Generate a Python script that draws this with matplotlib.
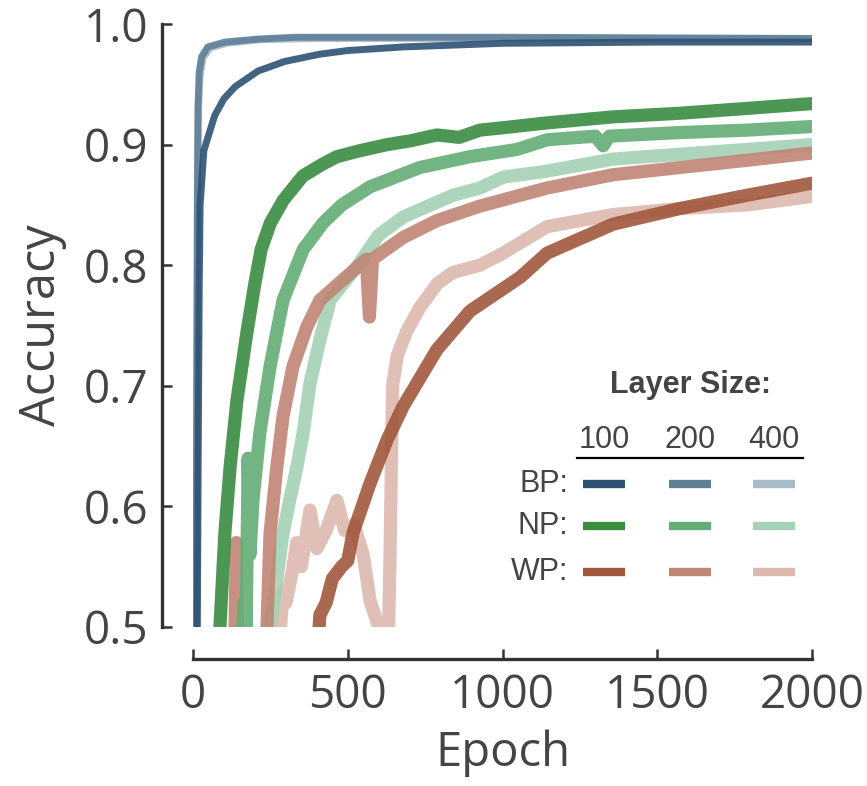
import matplotlib
matplotlib.use("Agg")
import matplotlib.pyplot as plt
from matplotlib.lines import Line2D

# (epoch, accuracy)
bp100_ep = [8, 14, 17, 20, 23, 35, 70, 100, 136, 210, 297, 410, 500, 680, 1000, 1500, 2000]
bp100_acc = [0.40, 0.50, 0.65, 0.78, 0.85, 0.895, 0.924, 0.938, 0.948, 0.961, 0.969, 0.975, 0.978, 0.981, 0.984, 0.985, 0.985]
bp200_ep = [5, 10, 12, 14, 16, 20, 28, 48, 103, 210, 330, 1000, 2000]
bp200_acc = [0.40, 0.50, 0.70, 0.85, 0.93, 0.96, 0.973, 0.981, 0.985, 0.9875, 0.989, 0.989, 0.988]
bp400_ep = [6, 11, 13, 15, 18, 23, 33, 55, 110, 220, 400, 1000, 2000]
bp400_acc = [0.40, 0.50, 0.70, 0.85, 0.93, 0.958, 0.972, 0.980, 0.984, 0.987, 0.988, 0.988, 0.988]

np100_ep = [65, 87, 103, 120, 142, 174, 200, 220, 250, 292, 355, 420, 465, 540, 627, 700, 788,
            860, 927, 1002, 1144, 1357, 1573, 1790, 2000]
np100_acc = [0.45, 0.50, 0.578, 0.633, 0.688, 0.744, 0.785, 0.813, 0.835, 0.854, 0.874, 0.884, 0.89,
             0.895, 0.90, 0.903, 0.908, 0.906, 0.912, 0.914, 0.918, 0.923, 0.926, 0.930, 0.934]
np200_ep = [150, 165, 172, 178, 184, 194, 216, 249, 291, 356, 420, 481, 572, 733, 895, 1047, 1144,
            1300, 1325, 1345, 1573, 1790, 2000]
np200_acc = [0.45, 0.52, 0.50, 0.64, 0.56, 0.606, 0.661, 0.716, 0.771, 0.813, 0.835, 0.85, 0.865,
             0.881, 0.89, 0.896, 0.904, 0.907, 0.899, 0.907, 0.910, 0.912, 0.915]
np400_ep = [240, 249, 271, 291, 313, 336, 356, 378, 410, 443, 530, 600, 679, 840, 927, 1002, 1144,
            1357, 1573, 1790, 2000]
np400_acc = [0.45, 0.50, 0.54, 0.578, 0.606, 0.633, 0.661, 0.702, 0.738, 0.771, 0.799, 0.825, 0.84,
             0.858, 0.864, 0.873, 0.878, 0.888, 0.892, 0.896, 0.90]

wp100_ep = [395, 410, 430, 450, 480, 500, 517, 572, 627, 679, 788, 895, 1057, 1144, 1357, 1573,
            1790, 2000]
wp100_acc = [0.45, 0.51, 0.52, 0.54, 0.55, 0.555, 0.578, 0.619, 0.655, 0.683, 0.73, 0.762, 0.79,
             0.81, 0.834, 0.847, 0.858, 0.868]
wp200_ep = [130, 136, 140, 146, 230, 239, 249, 271, 291, 323, 368, 410, 485, 560, 570, 580, 679,
            788, 927, 1144, 1357, 1573, 1790, 2000]
wp200_acc = [0.45, 0.50, 0.57, 0.45, 0.45, 0.50, 0.578, 0.633, 0.675, 0.716, 0.749, 0.771, 0.788,
             0.805, 0.757, 0.805, 0.823, 0.837, 0.849, 0.864, 0.875, 0.881, 0.887, 0.893]
wp400_ep = [270, 283, 291, 300, 320, 335, 350, 378, 400, 430, 465, 490, 520, 550, 572, 600, 614,
            628, 636, 645, 660, 690, 733, 790, 840, 927, 1002, 1144, 1357, 1573, 1790, 2000]
wp400_acc = [0.45, 0.50, 0.53, 0.52, 0.545, 0.57, 0.55, 0.597, 0.565, 0.58, 0.605, 0.58, 0.585,
             0.56, 0.522, 0.50, 0.45, 0.45, 0.55, 0.70, 0.725, 0.745, 0.765, 0.785, 0.794, 0.80,
             0.81, 0.832, 0.842, 0.847, 0.85, 0.857]

sizes = ["100", "200", "400"]
methods = ["BP:", "NP:", "WP:"]
colors = {
    "BP": ["#2d5273", "#5f7f97", "#a8bbc8"],
    "NP": ["#3a8c41", "#63ad76", "#a3d1b5"],
    "WP": ["#a2573d", "#c08575", "#dcb8ae"],
}

series = {
    "BP": [(bp100_ep, bp100_acc), (bp200_ep, bp200_acc), (bp400_ep, bp400_acc)],
    "NP": [(np100_ep, np100_acc), (np200_ep, np200_acc), (np400_ep, np400_acc)],
    "WP": [(wp100_ep, wp100_acc), (wp200_ep, wp200_acc), (wp400_ep, wp400_acc)],
}
widths = {"BP": 5, "NP": 9.5, "WP": 9.5}

fig = plt.figure(figsize=(8.67, 7.86), dpi=100)
ax = fig.add_axes([193 / 867, 1 - 627 / 786, 619 / 867, 603 / 786])

# largest layers first, smallest on top
for i in [2, 1, 0]:
    for m in ["WP", "NP", "BP"]:
        ep, acc = series[m][i]
        ax.plot(ep, acc, color=colors[m][i], lw=widths[m], alpha=0.9,
                solid_capstyle="round", solid_joinstyle="round")

ax.set_xlim(0, 2000)
ax.set_ylim(0.5, 1.0)
ax.set_xticks([0, 500, 1000, 1500, 2000])
ax.set_yticks([0.5, 0.6, 0.7, 0.8, 0.9, 1.0])
ax.set_yticklabels(["0.5", "0.6", "0.7", "0.8", "0.9", "1.0"])

for s in ["top", "right"]:
    ax.spines[s].set_visible(False)
ax.spines["left"].set_position(("outward", 22))
ax.spines["bottom"].set_position(("outward", 23))
for s in ["left", "bottom"]:
    ax.spines[s].set_linewidth(2.4)
    ax.spines[s].set_color("#333333")

ax.tick_params(direction="in", length=7, width=1.8, color="#333333", pad=10,
               labelsize=33, labelcolor="#444444")
for lab in ax.get_xticklabels() + ax.get_yticklabels():
    lab.set_fontfamily("Open Sans")

ax.set_xlabel("Epoch", fontfamily="Open Sans", fontsize=34, color="#444444", labelpad=8)
ax.set_ylabel("Accuracy", fontfamily="Open Sans", fontsize=35, color="#444444", labelpad=12)

# custom legend table
lg = {"family": "Liberation Sans", "size": 22, "color": "#444444"}
ax.text(0.803, 0.401, "Layer Size:", transform=ax.transAxes, ha="center", va="center",
        fontweight="bold", **lg)
col_x = [0.664, 0.803, 0.939]
for cx, s in zip(col_x, sizes):
    ax.text(cx, 0.310, s, transform=ax.transAxes, ha="center", va="center", **lg)
ax.add_line(Line2D([0.620, 0.985], [0.280, 0.280], transform=ax.transAxes, color="black",
                   lw=1.6, clip_on=False))
row_y = [0.237, 0.167, 0.091]
for ry, m in zip(row_y, methods):
    ax.text(0.606, ry, m, transform=ax.transAxes, ha="right", va="center", **lg)
    for cx, c in zip(col_x, colors[m[:2]]):
        ax.add_line(Line2D([cx - 0.034, cx + 0.034], [ry, ry], transform=ax.transAxes,
                           color=c, lw=6, solid_capstyle="butt", clip_on=False))

fig.savefig("out.png", dpi=100)
